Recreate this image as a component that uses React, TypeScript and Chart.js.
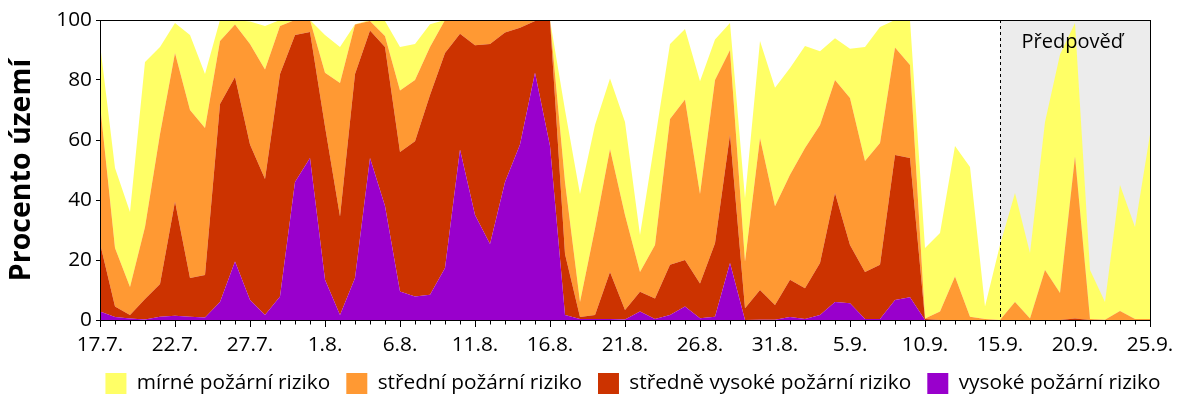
import React, { useEffect, useRef } from "react";
import { Chart, registerables } from "chart.js";

Chart.register(...registerables);

// Daily categories 17.7. – 25.9.
const categories: string[] = [
  "17.7.", "18.7.", "19.7.", "20.7.", "21.7.", "22.7.", "23.7.", "24.7.", "25.7.", "26.7.",
  "27.7.", "28.7.", "29.7.", "30.7.", "31.7.", "1.8.", "2.8.", "3.8.", "4.8.", "5.8.",
  "6.8.", "7.8.", "8.8.", "9.8.", "10.8.", "11.8.", "12.8.", "13.8.", "14.8.", "15.8.",
  "16.8.", "17.8.", "18.8.", "19.8.", "20.8.", "21.8.", "22.8.", "23.8.", "24.8.", "25.8.",
  "26.8.", "27.8.", "28.8.", "29.8.", "30.8.", "31.8.", "1.9.", "2.9.", "3.9.", "4.9.",
  "5.9.", "6.9.", "7.9.", "8.9.", "9.9.", "10.9.", "11.9.", "12.9.", "13.9.", "14.9.",
  "15.9.", "16.9.", "17.9.", "18.9.", "19.9.", "20.9.", "21.9.", "22.9.", "23.9.", "24.9.",
  "25.9.",
];

// Labelled ticks (every fifth day)
const tickLabels: string[] = [
  "17.7.", "22.7.", "27.7.", "1.8.", "6.8.", "11.8.", "16.8.", "21.8.",
  "26.8.", "31.8.", "5.9.", "10.9.", "15.9.", "20.9.", "25.9.",
];

const forecastStart = "15.9.";
const forecastText = "Předpověď";
const yTitle = "Procento území";

// Percent of territory per risk class (layer thickness)
const vysoke: number[] = [
  2.8, 1, 0.5, 0.2, 1.1, 1.4, 1.1, 0.8, 6, 19.5,
  6.7, 1.7, 7.8, 46, 54, 13.4, 1.7, 14, 54, 38,
  9.5, 7.8, 8.4, 17.3, 56.8, 35, 25.3, 46, 58.5, 82.4,
  58, 1.7, 0.3, 0.3, 0.3, 0.2, 2.8, 0.3, 1.7, 4.5,
  0.6, 1.1, 19, 0, 0.1, 0.1, 1, 0.3, 1.7, 6,
  5.6, 0.3, 0.3, 6.7, 7.6, 0, 0, 0, 0, 0,
  0, 0, 0, 0, 0, 0, 0, 0, 0, 0,
  0,
];

const stredneVysoke: number[] = [
  22.8, 3.5, 1.2, 6.8, 10.9, 38.1, 12.9, 14.2, 66, 61.5,
  51.8, 45.3, 74.2, 49, 42, 51.1, 32.8, 68, 42.5, 53,
  46.5, 51.8, 66.6, 71.7, 38.6, 56.6, 66.7, 49.8, 38.9, 17.3,
  42, 20.3, 0.7, 1.4, 15.7, 3.1, 6.6, 6.9, 16.7, 15.5,
  11.6, 24.5, 42.8, 3.9, 9.9, 4.9, 12.4, 10.3, 17.3, 36.3,
  19.4, 15.7, 18.1, 48.3, 46.4, 0.3, 0, 0, 0, 0,
  0, 0, 0, 0, 0, 0.5, 0, 0, 0, 0,
  0,
];

const stredni: number[] = [
  46.4, 19.5, 9.3, 24, 50, 49.5, 56, 49, 21, 17.5,
  33.5, 36.5, 16, 5, 4, 17.9, 44.5, 16.5, 3.2, 3.7,
  20.5, 20.4, 16, 11, 4.6, 8.4, 8, 4.2, 2.6, 0.3,
  0, 24, 5, 28.8, 41, 31.7, 6.6, 17.8, 48.6, 53.5,
  29.8, 54.4, 28.2, 15.6, 50.7, 32.9, 35, 46.7, 46, 37.7,
  49, 37, 40.6, 35.8, 31, 0.2, 2.8, 14.5, 1.1, 0.3,
  0, 6, 0.5, 16.7, 9, 54, 0.3, 0.1, 3, 0.3,
  0.3,
];

const mirne: number[] = [
  20, 26.7, 25, 55, 29, 10, 25, 18, 7, 1.5,
  7.5, 14.5, 2, 0, 0, 12.6, 12, 0.1, 0.3, 5,
  14.5, 12, 7.6, 0, 0, 0, 0, 0, 0, 0,
  0, 24, 36, 34.5, 23.5, 31, 12.3, 35, 25, 23.5,
  37.6, 13.5, 9, 21.1, 32.3, 39.5, 35.6, 34, 24.6, 13.9,
  16.4, 38, 38.7, 9.2, 15, 23.5, 26.2, 43.5, 49.9, 4.2,
  25, 36.3, 21.8, 49.3, 79.5, 44.5, 16.4, 5.9, 42, 30.7,
  61.5,
];

const seriesNames: string[] = [
  "vysoké požární riziko",
  "středně vysoké požární riziko",
  "střední požární riziko",
  "mírné požární riziko",
];
const seriesColors: string[] = ["#9900CC", "#CC3300", "#FF9933", "#FFFF66"];

const FONT = "'Open Sans', 'Noto Sans', sans-serif";
const FS = 20.8;

const decorPlugin = {
  id: "decor",
  beforeDatasetsDraw(chart: any) {
    const { ctx, chartArea, scales } = chart;
    const x0 = scales.x.getPixelForValue(categories.indexOf(forecastStart));
    ctx.save();
    ctx.fillStyle = "#ECECEC";
    ctx.fillRect(x0, chartArea.top, chartArea.right - x0, chartArea.bottom - chartArea.top);
    ctx.restore();
  },
  afterDatasetsDraw(chart: any) {
    const { ctx, chartArea, scales } = chart;
    const xs = scales.x;
    const x0 = Math.round(xs.getPixelForValue(categories.indexOf(forecastStart))) + 0.5;
    ctx.save();
    // dashed forecast divider
    ctx.strokeStyle = "#000";
    ctx.lineWidth = 1;
    ctx.setLineDash([3, 3]);
    ctx.beginPath();
    ctx.moveTo(x0, chartArea.top);
    ctx.lineTo(x0, chartArea.bottom);
    ctx.stroke();
    ctx.setLineDash([]);
    // forecast label
    ctx.fillStyle = "#000";
    ctx.font = `20px ${FONT}`;
    ctx.textAlign = "left";
    ctx.textBaseline = "alphabetic";
    ctx.fillText(forecastText, x0 + 21, chartArea.top + 28);
    // frame
    const l = Math.round(chartArea.left) + 0.5;
    const r = Math.round(chartArea.right) + 0.5;
    const t = Math.round(chartArea.top) + 0.5;
    const b = Math.round(chartArea.bottom) + 0.5;
    ctx.strokeRect(l, t, r - l, b - t);
    // minor ticks (every day)
    ctx.beginPath();
    for (let i = 0; i < categories.length; i++) {
      if (tickLabels.includes(categories[i])) continue;
      const px = Math.round(xs.getPixelForValue(i)) + 0.5;
      ctx.moveTo(px, b);
      ctx.lineTo(px, b + 4);
    }
    ctx.stroke();
    ctx.restore();
  },
};

export default function App() {
  const canvasRef = useRef<HTMLCanvasElement | null>(null);

  useEffect(() => {
    if (!canvasRef.current) return;
    const series = [vysoke, stredneVysoke, stredni, mirne];
    const chart = new Chart(canvasRef.current, {
      type: "line",
      data: {
        labels: categories,
        datasets: series.map((values, i) => ({
          label: seriesNames[i],
          data: values,
          backgroundColor: seriesColors[i],
          borderColor: "rgba(0,0,0,0)",
          borderWidth: 0,
          pointRadius: 0,
          pointHoverRadius: 0,
          tension: 0,
          fill: i === 0 ? "origin" : "-1",
        })),
      },
      options: {
        responsive: false,
        animation: false,
        events: [],
        layout: { padding: { left: 0, right: 0, top: 20, bottom: -4 } },
        plugins: {
          legend: {
            position: "bottom",
            reverse: true,
            labels: {
              boxWidth: 21,
              boxHeight: 21,
              padding: 16,
              color: "#000",
              font: { family: FONT, size: FS },
            },
          },
          tooltip: { enabled: false },
        },
        scales: {
          x: {
            type: "category",
            offset: false,
            border: { display: false },
            grid: {
              drawOnChartArea: false,
              drawTicks: true,
              tickLength: 7,
              tickColor: (c: any) =>
                tickLabels.includes(categories[c.index]) ? "#000" : "rgba(0,0,0,0)",
            },
            ticks: {
              autoSkip: false,
              maxRotation: 0,
              minRotation: 0,
              padding: 6,
              color: "#000",
              font: { family: FONT, size: FS },
              callback: (_v: any, i: number) =>
                tickLabels.includes(categories[i]) ? categories[i] : "",
            },
            afterFit: (s: any) => {
              s.height = 37;
            },
          },
          y: {
            stacked: true,
            min: 0,
            max: 100,
            border: { display: false },
            grid: { drawOnChartArea: false, drawTicks: true, tickLength: 4, tickColor: "#000" },
            ticks: {
              stepSize: 20,
              padding: 4,
              color: "#000",
              font: { family: FONT, size: FS },
            },
            title: {
              display: true,
              text: yTitle,
              color: "#000",
              font: { family: FONT, size: 28.5, weight: "bold" },
              padding: { top: 5, bottom: 0 },
            },
            afterFit: (s: any) => {
              s.width = 100;
            },
          },
          yPad: {
            position: "right",
            display: true,
            border: { display: false },
            grid: { display: false, drawTicks: false },
            ticks: { display: false },
            afterFit: (s: any) => {
              s.width = 116;
            },
          },
        },
      },
      plugins: [decorPlugin],
    } as any);
    return () => chart.destroy();
  }, []);

  return (
    <div
      style={{
        position: "fixed",
        left: 0,
        top: 0,
        width: 1200,
        height: 400,
        overflow: "hidden",
        background: "#fff",
      }}
    >
      <canvas ref={canvasRef} width={1266} height={400} style={{ display: "block" }} />
    </div>
  );
}
